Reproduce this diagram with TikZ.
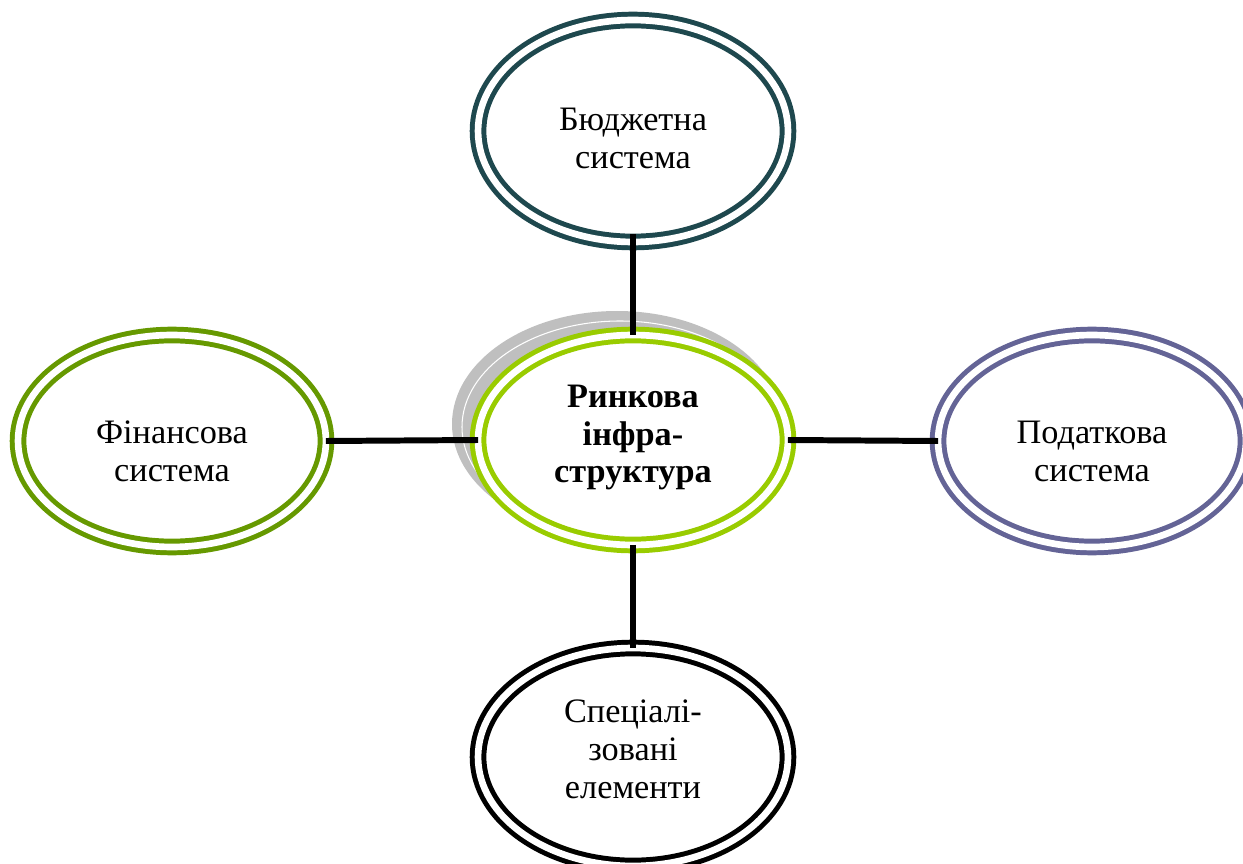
\documentclass[tikz,border=0pt]{standalone}
\usepackage{fontspec}
\setmainfont{Liberation Serif}
\usetikzlibrary{shapes.geometric,calc}
\definecolor{cTop}{HTML}{1E484E}
\definecolor{cLeft}{HTML}{669900}
\definecolor{cRight}{HTML}{646496}
\definecolor{cCtr}{HTML}{99CC00}
\definecolor{cShadow}{HTML}{BFBFBF}
\begin{document}
\begin{tikzpicture}[x=0.02cm,y=-0.02cm,
  ring/.style={ellipse, draw=#1, line width=2.83pt, double=white, double distance=3.8pt,
    fill=white, inner sep=0pt, outer sep=0pt},
  txt/.style={align=center, inner sep=0pt, font=\fontsize{19.5}{21.6}\selectfont},
  link/.style={line width=3.4pt, black}]
\useasboundingbox (0,0) rectangle (1243,864);
\clip (0,0) rectangle (1243,864);
% shadow of the central ellipse
\fill[cShadow] (617,424) ellipse [x radius=165, y radius=113];
\draw[white, line width=0.6pt] (620,427) ellipse [x radius=158, y radius=106];
% ellipses
\node[ring=cTop, minimum width=6.2cm, minimum height=4.44cm,
  label={[txt, name=topt, yshift=-0.14cm]center:Бюджетна\\система}] (top) at (633,131) {};
\node[ring=cLeft, minimum width=6.16cm, minimum height=4.24cm,
  label={[txt, name=leftt, yshift=-0.2cm]center:Фінансова\\система}] (left) at (172,441) {};
\node[ring=cRight, minimum width=6.16cm, minimum height=4.24cm,
  label={[txt, name=rightt, yshift=-0.2cm]center:Податкова\\система}] (right) at (1092,441) {};
\node[ring=cCtr, minimum width=6.2cm, minimum height=4.2cm,
  label={[txt, name=ctrt, yshift=0.05cm, font=\fontsize{19.5}{21.6}\selectfont\bfseries]center:Ринкова\\інфра-\\структура}] (ctr) at (633,440) {};
\node[ring=black, minimum width=6.2cm, minimum height=4.36cm,
  label={[txt, name=bott, yshift=0.16cm]center:Спеціалі-\\зовані\\елементи}] (bot) at (633,757) {};
% connectors
\draw[link] ($(top.south)+(0,-8)$) -- (ctr.north);
\draw[link] (left.east) -- (ctr.west);
\draw[link] (ctr.east) -- (right.west);
\draw[link] (ctr.south) -- (bot.north);
\end{tikzpicture}
\end{document}
